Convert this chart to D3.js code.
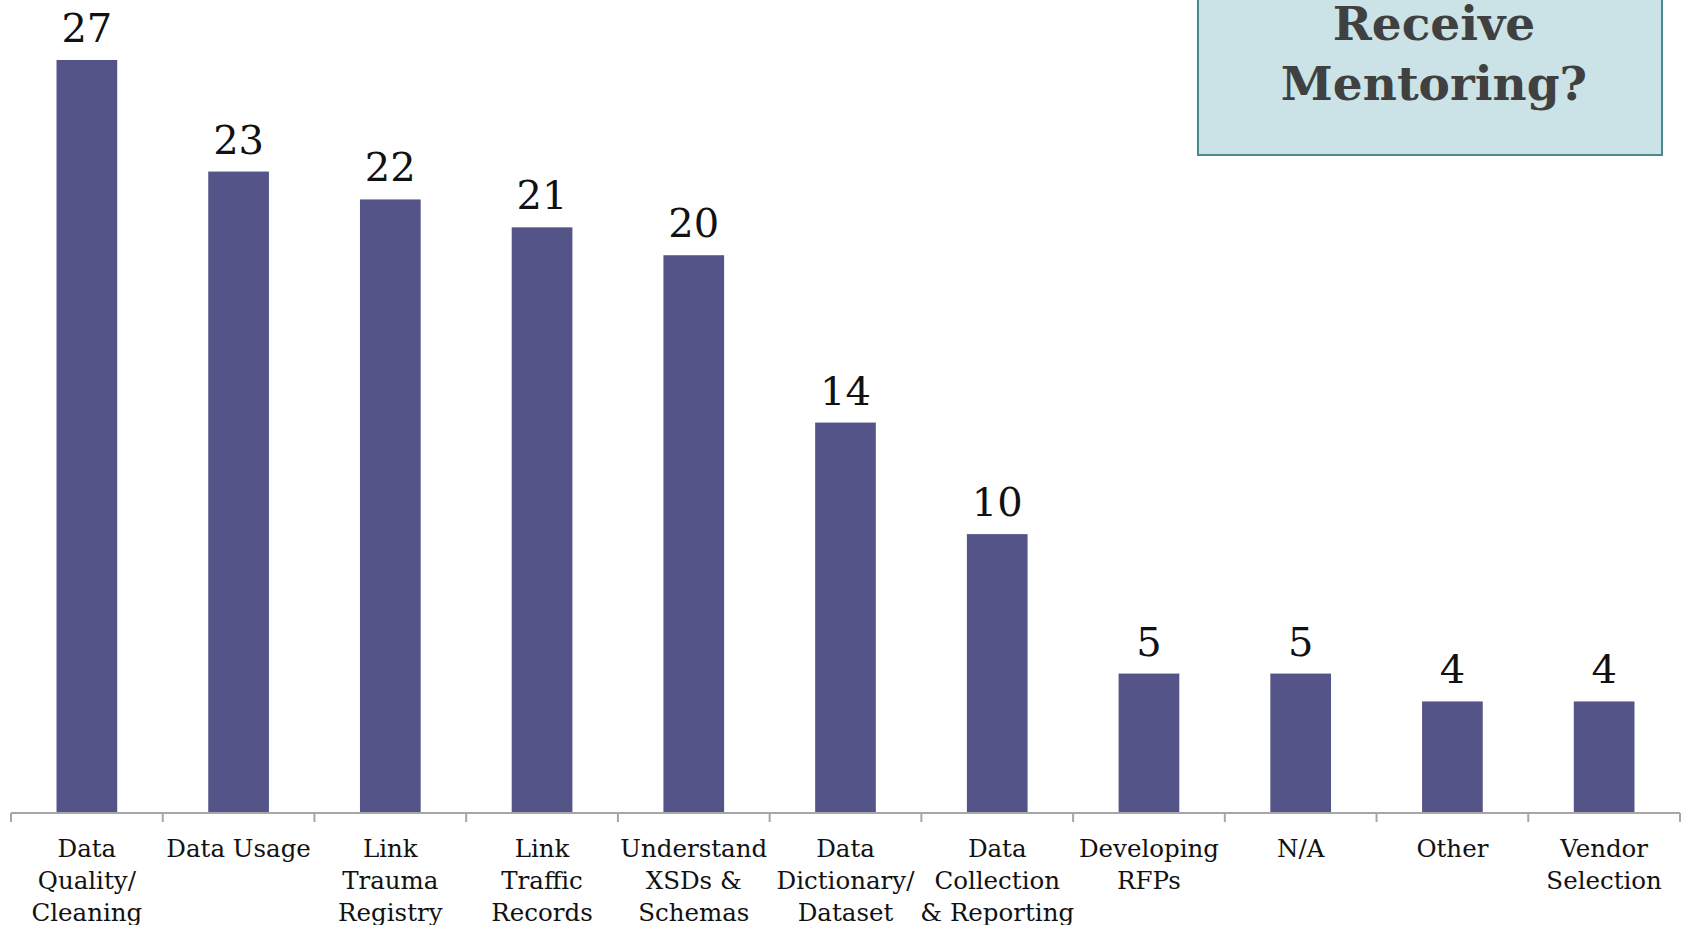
<!DOCTYPE html>
<html>
<head>
<meta charset="utf-8">
<script src="https://cdn.jsdelivr.net/npm/d3@7"></script>
<style>
  body { margin:0; background:#fff; }
  svg { display:block; }
  .cat text { font-family: Georgia, 'DejaVu Serif', serif; font-size:24.5px; fill:#111; }
</style>
</head>
<body>
<div id="chart"></div>
<script>
// chart data
var categories = ['Data|Quality/|Cleaning', 'Data Usage', 'Link|Trauma|Registry', 'Link|Traffic|Records',
                  'Understand|XSDs &|Schemas', 'Data|Dictionary/|Dataset', 'Data|Collection|& Reporting',
                  'Developing|RFPs', 'N/A', 'Other', 'Vendor|Selection'];
var values = [27, 23, 22, 21, 20, 14, 10, 5, 5, 4, 4];
var titleLines = ['Receive', 'Mentoring?'];

var W = 1685, H = 925;
var m = {t:60, r:5, b:112, l:11};

var svg = d3.select('#chart').append('svg')
    .attr('width', W)
    .attr('height', H);

svg.append('rect').attr('width', W).attr('height', H).attr('fill', '#fff');

var x = d3.scaleBand()
    .domain(categories)
    .range([m.l, W - m.r])
    .paddingInner(0.6)
    .paddingOuter(0.3);

var y = d3.scaleLinear()
    .domain([0, d3.max(values)])
    .range([H - m.b, m.t]);

var data = categories.map(function(c, i){ return {cat:c, val:values[i]}; });

// bars
svg.selectAll('.bar')
    .data(data)
  .enter().append('rect')
    .attr('class', 'bar')
    .attr('x', function(d){ return x(d.cat); })
    .attr('y', function(d){ return y(d.val); })
    .attr('width', x.bandwidth())
    .attr('height', function(d){ return y(0) - y(d.val); })
    .attr('fill', '#545488');

// value labels
svg.selectAll('.val')
    .data(data)
  .enter().append('text')
    .attr('class', 'val')
    .attr('x', function(d){ return x(d.cat) + x.bandwidth()/2; })
    .attr('y', function(d){ return y(d.val) - 18; })
    .attr('text-anchor', 'middle')
    .style('font-family', "Georgia, 'DejaVu Serif', serif")
    .style('font-size', '40px')
    .attr('fill', '#111')
    .text(function(d){ return d.val; });

// x axis: line + ticks at band boundaries
var step = x.step(),
    off = step * x.paddingOuter();
var axisG = svg.append('g')
    .attr('class', 'cat')
    .attr('transform', 'translate(0,' + y(0) + ')');

axisG.append('line')
    .attr('x1', x.range()[0]).attr('x2', x.range()[1])
    .attr('stroke', '#a6a6a6').attr('stroke-width', 2);

var bounds = categories.map(function(c){ return x(c) - off; }).concat([x.range()[1]]);
axisG.selectAll('.tick-b')
    .data(bounds)
  .enter().append('line')
    .attr('class', 'tick-b')
    .attr('x1', function(d){ return d; }).attr('x2', function(d){ return d; })
    .attr('y1', 0).attr('y2', 9)
    .attr('stroke', '#a6a6a6').attr('stroke-width', 2);

var lbl = axisG.selectAll('.lbl')
    .data(categories)
  .enter().append('text')
    .attr('class', 'lbl')
    .attr('text-anchor', 'middle')
    .attr('x', function(d){ return x(d) + x.bandwidth()/2; })
    .attr('y', 44);

lbl.selectAll('tspan')
    .data(function(d){ return d.split('|'); })
  .enter().append('tspan')
    .attr('x', function(){ var p = this.parentNode; return p.getAttribute('x'); })
    .attr('dy', function(d, i){ return i ? 32 : 0; })
    .text(String);

// title box
var box = svg.append('g');
box.append('rect')
    .attr('x', 1198).attr('y', -20)
    .attr('width', 464).attr('height', 175)
    .attr('fill', '#cbe3e6')
    .attr('stroke', '#4d8a90')
    .attr('stroke-width', 2);

box.selectAll('text')
    .data(titleLines)
  .enter().append('text')
    .attr('x', 1434)
    .attr('y', function(d, i){ return 40 + i * 60; })
    .attr('text-anchor', 'middle')
    .style('font-family', "Georgia, 'DejaVu Serif', serif")
    .style('font-weight', 'bold')
    .style('font-size', '47px')
    .attr('fill', '#404040')
    .text(String);
</script>
</body>
</html>
